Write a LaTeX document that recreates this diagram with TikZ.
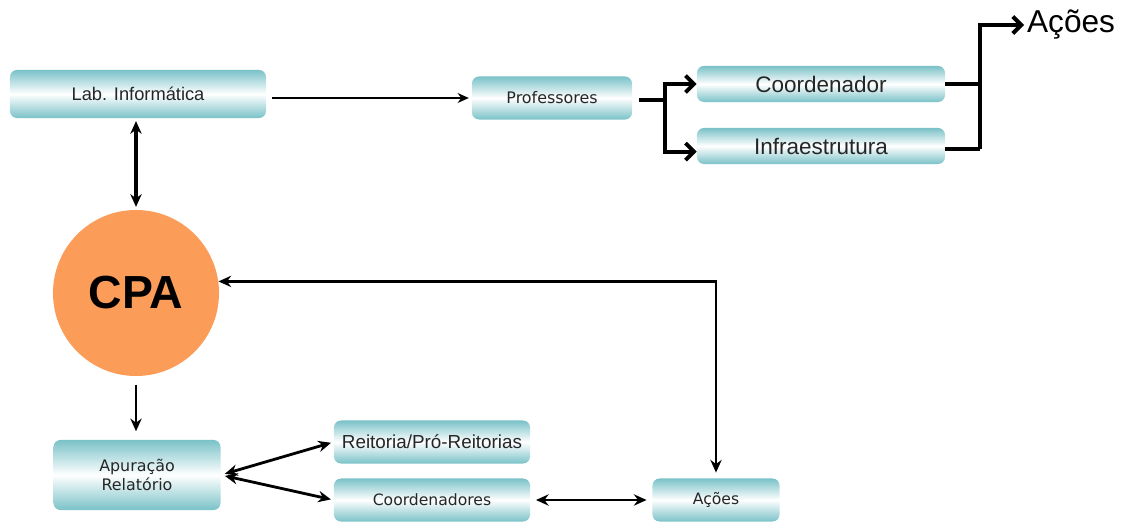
\documentclass[tikz,border=0pt]{standalone}
\usepackage{fontspec}
\setmainfont{Liberation Sans}
\newfontfamily\verd{DejaVu Sans}
\usetikzlibrary{arrows.meta}
\definecolor{azulcaixa}{RGB}{122,194,200}
\definecolor{laranja}{RGB}{251,157,89}
\tikzset{
  caixa/.style={rounded corners=5pt, top color=azulcaixa, bottom color=azulcaixa,
    middle color=white, inner sep=0pt, align=center, text=black!85},
  ramo/.style={line width=2.8pt, -{Straight Barb[length=6pt,width=12pt]}},
  seta/.style={line width=2pt, {Stealth[length=9pt,width=8pt]}-{Stealth[length=9pt,width=8pt]}},
}
\begin{document}
\begin{tikzpicture}[x=0.025cm,y=-0.025cm]
  \useasboundingbox (0,0) rectangle (1128,524);
  % caixas de cima
  \node[caixa, minimum width=6.4cm, minimum height=1.2cm, font=\fontsize{13}{15}\selectfont] (lab) at (138,94) {Lab. Informática};
  \node[caixa, minimum width=4cm, minimum height=1.075cm, font=\verd\fontsize{11.3}{13.5}\selectfont] (prof) at (552,98) {Professores};
  \node[caixa, minimum width=6.2cm, minimum height=0.9cm, font=\fontsize{16}{19}\selectfont] (coord) at (821,84) {Coordenador};
  \node[caixa, minimum width=6.2cm, minimum height=0.9cm, font=\fontsize{16}{19}\selectfont] (infra) at (821,146) {Infraestrutura};
  \node[font=\fontsize{22.5}{26}\selectfont, inner sep=2pt, anchor=west] (acoes) at (1024,25) {Ações};
  % CPA
  \node[circle, fill=laranja, minimum size=4.15cm, inner sep=0pt, font=\bfseries\fontsize{33}{38}\selectfont] (cpa) at (136,293) {CPA};
  % caixas de baixo
  \node[caixa, minimum width=4.175cm, minimum height=1.75cm, font=\verd\fontsize{11.3}{14}\selectfont] (apur) at (137,475) {Apuração\\Relatório};
  \node[caixa, minimum width=4.9cm, minimum height=1.075cm, font=\fontsize{13.4}{16}\selectfont] (reit) at (432,442) {Reitoria/Pró-Reitorias};
  \node[caixa, minimum width=4.9cm, minimum height=1.075cm, font=\verd\fontsize{11.1}{13.5}\selectfont] (coords) at (432,500) {Coordenadores};
  \node[caixa, minimum width=3.175cm, minimum height=1.075cm, font=\verd\fontsize{11.1}{13.5}\selectfont] (acoesb) at (716,500) {Ações};
  % ligacoes
  \coordinate (div) at (665,100);
  \coordinate (jun) at (980,100);
  \draw[line width=1.4pt, -{Stealth[length=8pt,width=7pt]}, shorten <=4pt, shorten >=2pt] (lab.east |- prof.west) -- (prof.west);
  \draw[seta, line width=2.3pt, shorten <=2pt, shorten >=2pt] (cpa.north |- lab.south) -- (cpa.north);
  \draw[line width=2.8pt, shorten <=5pt] (prof.east |- div) -- (div);
  \draw[ramo] (div) |- (coord.west);
  \draw[ramo] (div) |- ([yshift=-4pt]infra.west);
  \draw[line width=2.8pt] (coord.east) -- (coord.east -| jun);
  \draw[line width=2.8pt] ([yshift=-2pt]infra.east) -- ([yshift=-2pt]infra.east -| jun);
  \draw[ramo] ([yshift=-2pt]infra.east -| jun) |- (acoes.west);
  \draw[seta, shorten >=4pt] (cpa.8) -| (acoesb.north);
  \draw[line width=2pt, -{Stealth[length=9pt,width=8pt]}, shorten <=6pt, shorten >=6pt] (cpa.south) -- (cpa.south |- apur.north);
  \draw[seta, shorten <=3pt, shorten >=2pt] (apur.east) -- (reit.west);
  \draw[seta, shorten <=3pt, shorten >=2pt] (apur.east) -- (coords.west);
  \draw[seta, shorten <=4pt, shorten >=4pt] (coords.east) -- (acoesb.west);
\end{tikzpicture}
\end{document}
